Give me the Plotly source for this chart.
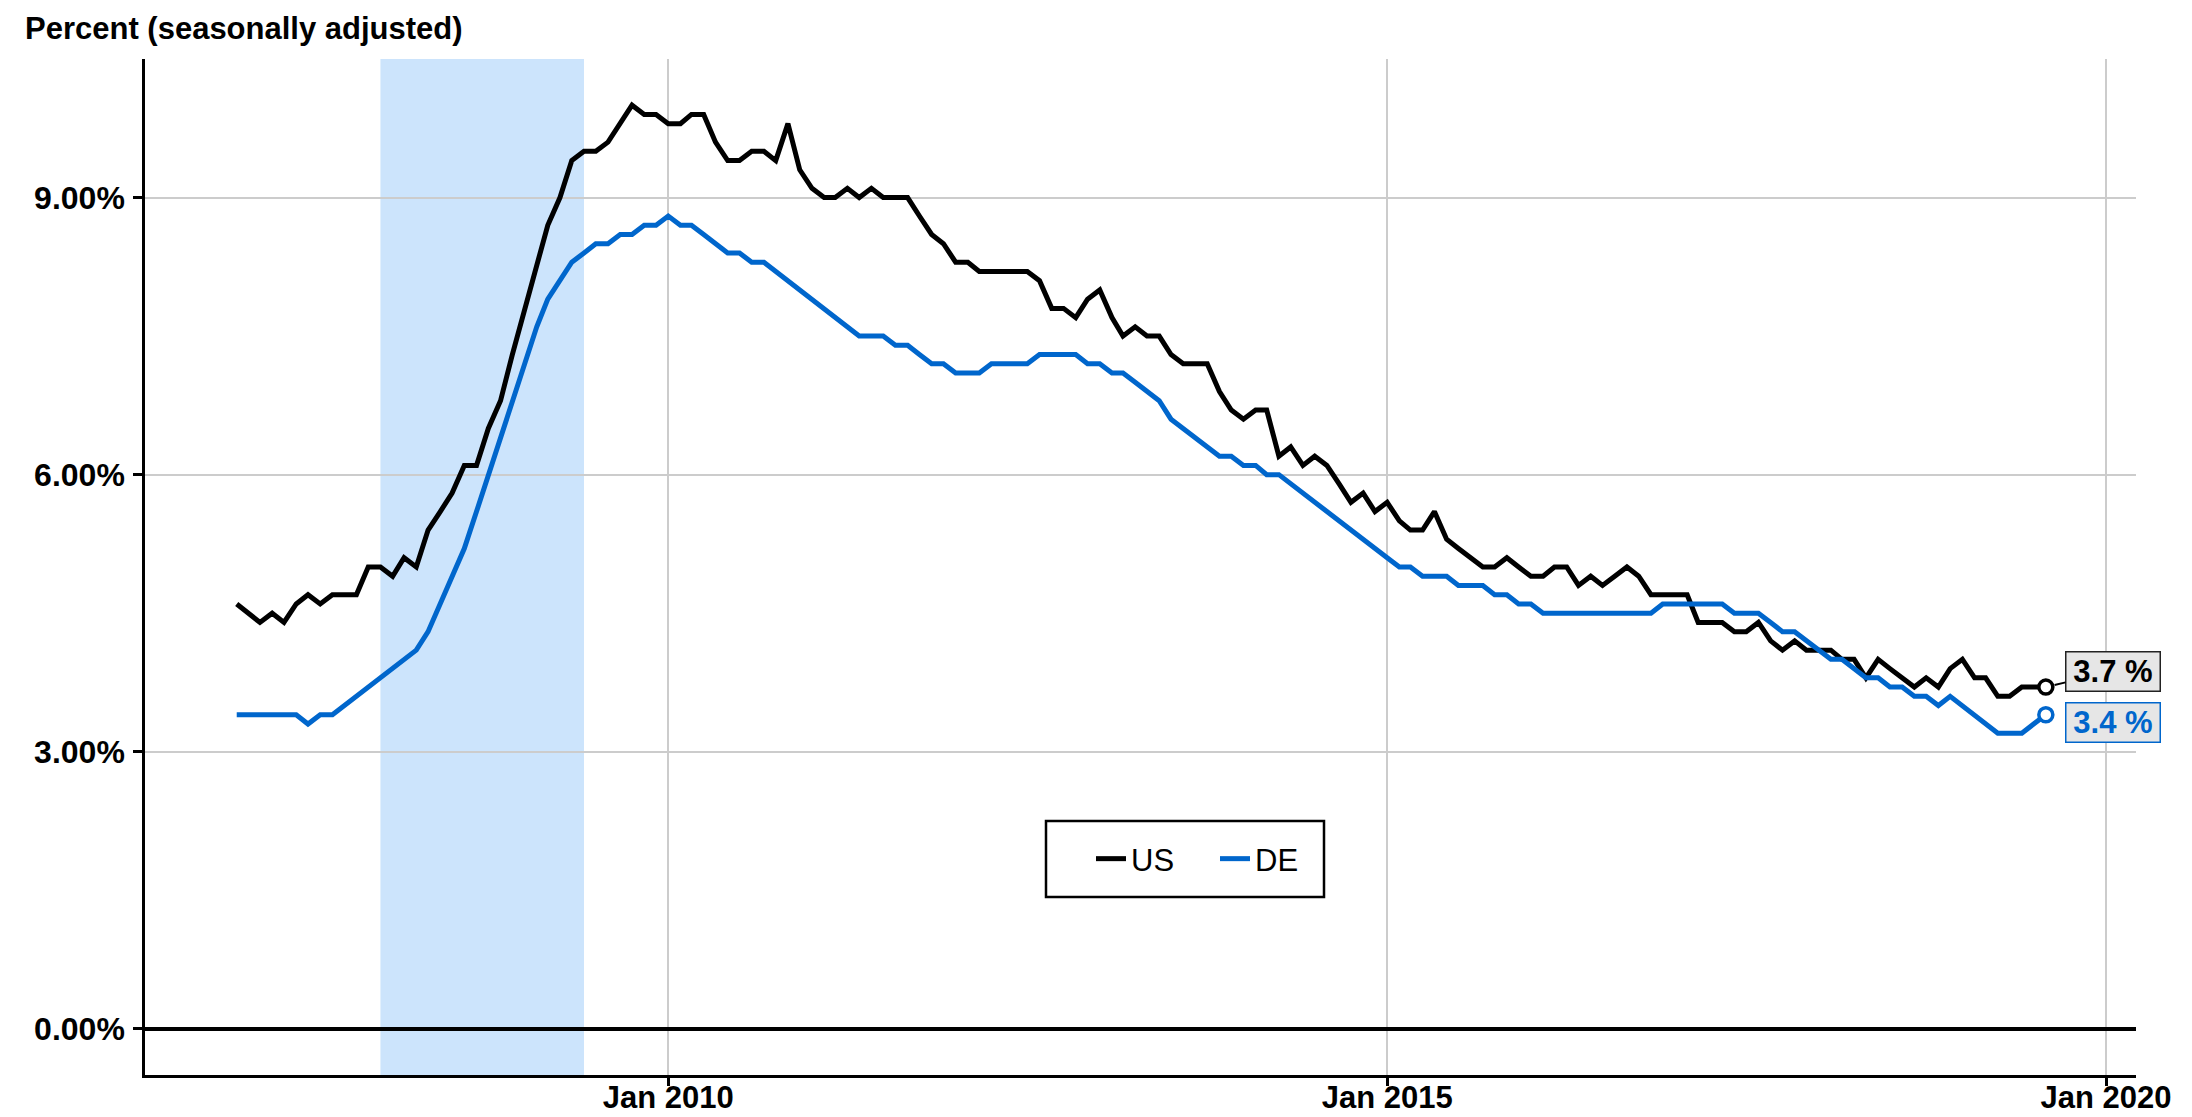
import pandas as pd
import plotly.graph_objects as go

START_MONTH = "2007-01-01"

US = [
    4.6, 4.5, 4.4, 4.5, 4.4, 4.6, 4.7, 4.6, 4.7, 4.7, 4.7, 5.0,
    5.0, 4.9, 5.1, 5.0, 5.4, 5.6, 5.8, 6.1, 6.1, 6.5, 6.8, 7.3,
    7.8, 8.3, 8.7, 9.0, 9.4, 9.5, 9.5, 9.6, 9.8, 10.0, 9.9, 9.9,
    9.8, 9.8, 9.9, 9.9, 9.6, 9.4, 9.4, 9.5, 9.5, 9.4, 9.8, 9.3,
    9.1, 9.0, 9.0, 9.1, 9.0, 9.1, 9.0, 9.0, 9.0, 8.8, 8.6, 8.5,
    8.3, 8.3, 8.2, 8.2, 8.2, 8.2, 8.2, 8.1, 7.8, 7.8, 7.7, 7.9,
    8.0, 7.7, 7.5, 7.6, 7.5, 7.5, 7.3, 7.2, 7.2, 7.2, 6.9, 6.7,
    6.6, 6.7, 6.7, 6.2, 6.3, 6.1, 6.2, 6.1, 5.9, 5.7, 5.8, 5.6,
    5.7, 5.5, 5.4, 5.4, 5.6, 5.3, 5.2, 5.1, 5.0, 5.0, 5.1, 5.0,
    4.9, 4.9, 5.0, 5.0, 4.8, 4.9, 4.8, 4.9, 5.0, 4.9, 4.7, 4.7,
    4.7, 4.7, 4.4, 4.4, 4.4, 4.3, 4.3, 4.4, 4.2, 4.1, 4.2, 4.1,
    4.1, 4.1, 4.0, 4.0, 3.8, 4.0, 3.9, 3.8, 3.7, 3.8, 3.7, 3.9,
    4.0, 3.8, 3.8, 3.6, 3.6, 3.7, 3.7, 3.7,
]

DE = [
    3.4, 3.4, 3.4, 3.4, 3.4, 3.4, 3.3, 3.4, 3.4, 3.5, 3.6, 3.7,
    3.8, 3.9, 4.0, 4.1, 4.3, 4.6, 4.9, 5.2, 5.6, 6.0, 6.4, 6.8,
    7.2, 7.6, 7.9, 8.1, 8.3, 8.4, 8.5, 8.5, 8.6, 8.6, 8.7, 8.7,
    8.8, 8.7, 8.7, 8.6, 8.5, 8.4, 8.4, 8.3, 8.3, 8.2, 8.1, 8.0,
    7.9, 7.8, 7.7, 7.6, 7.5, 7.5, 7.5, 7.4, 7.4, 7.3, 7.2, 7.2,
    7.1, 7.1, 7.1, 7.2, 7.2, 7.2, 7.2, 7.3, 7.3, 7.3, 7.3, 7.2,
    7.2, 7.1, 7.1, 7.0, 6.9, 6.8, 6.6, 6.5, 6.4, 6.3, 6.2, 6.2,
    6.1, 6.1, 6.0, 6.0, 5.9, 5.8, 5.7, 5.6, 5.5, 5.4, 5.3, 5.2,
    5.1, 5.0, 5.0, 4.9, 4.9, 4.9, 4.8, 4.8, 4.8, 4.7, 4.7, 4.6,
    4.6, 4.5, 4.5, 4.5, 4.5, 4.5, 4.5, 4.5, 4.5, 4.5, 4.5, 4.6,
    4.6, 4.6, 4.6, 4.6, 4.6, 4.5, 4.5, 4.5, 4.4, 4.3, 4.3, 4.2,
    4.1, 4.0, 4.0, 3.9, 3.8, 3.8, 3.7, 3.7, 3.6, 3.6, 3.5, 3.6,
    3.5, 3.4, 3.3, 3.2, 3.2, 3.2, 3.3, 3.4,
]

SERIES_NAMES = ["US", "DE"]
SERIES_COLORS = ["#000000", "#0066cc"]
RECESSION = ("2008-01-01", "2009-06-01")
X_RANGE = ("2006-05-13", "2020-03-17")
Y_RANGE = (-0.5, 10.5)
Y_TICKS = [0, 3, 6, 9]
Y_TICK_TEXT = [f"{v:.2f}%" for v in Y_TICKS]
X_TICKS = ["2010-01-01", "2015-01-01", "2020-01-01"]
X_TICK_TEXT = ["Jan 2010", "Jan 2015", "Jan 2020"]
Y_TITLE = "Percent (seasonally adjusted)"

dates = pd.date_range(START_MONTH, periods=len(US), freq="MS")

FONT = "Liberation Sans, Arial, Helvetica, sans-serif"

# page body adds an 8px offset; figure is sized to fill the rest of the window
OFF = 8
PLOT_L, PLOT_R, PLOT_T, PLOT_B = 145, 2136, 59, 1075
PW, PH = PLOT_R - PLOT_L, PLOT_B - PLOT_T


def px(x):
    return (x - PLOT_L) / PW


def py(y):
    return (PLOT_B - y) / PH


fig = go.Figure()

for name, vals, col in zip(SERIES_NAMES, [US, DE], SERIES_COLORS):
    fig.add_trace(go.Scatter(
        x=dates, y=vals, mode="lines", name=name,
        line=dict(color=col, width=5),
        hoverinfo="x+y",
    ))

# end markers
for name, vals, col in zip(SERIES_NAMES, [US, DE], SERIES_COLORS):
    fig.add_trace(go.Scatter(
        x=[dates[-1]], y=[vals[-1]], mode="markers", showlegend=False,
        marker=dict(size=14, color="white", line=dict(color=col, width=3.5)),
        hoverinfo="skip",
    ))

fig.add_vrect(x0=RECESSION[0], x1=RECESSION[1], fillcolor="#cce4fc",
              line_width=0, layer="below")

# legend box
fig.add_shape(type="rect", xref="paper", yref="paper",
              x0=px(1046), x1=px(1324), y0=py(897), y1=py(821),
              line=dict(color="#000000", width=2.5), fillcolor="white",
              layer="above")

# end labels
fig.add_annotation(
    x=dates[-1], y=US[-1], text=f"<b>{US[-1]:.1f} %</b>",
    showarrow=True, arrowhead=0, arrowwidth=2, arrowcolor="#000000",
    ax=67, ay=-16, standoff=9,
    font=dict(family=FONT, size=31, color="#000000"),
    bgcolor="#e6e6e6", bordercolor="#222222", borderwidth=1.5, borderpad=0,
    width=93, height=38,
)
fig.add_annotation(
    x=dates[-1], y=DE[-1], text=f"<b>{DE[-1]:.1f} %</b>",
    showarrow=True, arrowhead=0, arrowwidth=0.1, arrowcolor="rgba(0,0,0,0)",
    ax=67, ay=8,
    font=dict(family=FONT, size=31, color="#0066cc"),
    bgcolor="#e6e6e6", bordercolor="#0066cc", borderwidth=1.5, borderpad=0,
    width=93, height=38,
)

fig.add_annotation(
    xref="paper", yref="paper", x=px(23), y=py(28),
    xanchor="left", yanchor="middle",
    text=f"<b>{Y_TITLE}</b>", showarrow=False,
    font=dict(family=FONT, size=31, color="#000000"),
)

W, H = 2192 - OFF, 1117 - OFF
fig.update_layout(
    width=W, height=H,
    margin=dict(l=PLOT_L - OFF, r=W - (PLOT_R - OFF), t=PLOT_T - OFF,
                b=H - (PLOT_B - OFF), autoexpand=False),
    paper_bgcolor="white", plot_bgcolor="white",
    font=dict(family=FONT, size=31, color="#000000"),
    showlegend=True,
    legend=dict(
        orientation="h", x=px(1091), y=py(859),
        xanchor="left", yanchor="middle",
        borderwidth=0, bgcolor="rgba(0,0,0,0)",
        font=dict(family=FONT, size=31, color="#000000"),
        itemwidth=30, entrywidth=79,
    ),
    xaxis=dict(
        type="date", range=list(X_RANGE),
        tickvals=X_TICKS, ticktext=X_TICK_TEXT,
        tickfont=dict(family=FONT, size=31, color="#000000", weight="bold"),
        showgrid=True, gridcolor="#cccccc", gridwidth=1.5,
        showline=True, linecolor="#000000", linewidth=2.5,
        ticks="outside", ticklen=8, tickwidth=2.5, tickcolor="#000000",
        ticklabelstandoff=-15,
        zeroline=False, automargin=False,
    ),
    yaxis=dict(
        range=list(Y_RANGE), tickvals=Y_TICKS, ticktext=Y_TICK_TEXT,
        tickfont=dict(family=FONT, size=32, color="#000000", weight="bold"),
        showgrid=True, gridcolor="#cccccc", gridwidth=1.5,
        showline=True, linecolor="#000000", linewidth=2.5,
        ticks="outside", ticklen=9, tickwidth=2.5, tickcolor="#000000",
        ticklabelstandoff=2,
        zeroline=True, zerolinecolor="#000000", zerolinewidth=3.5,
        automargin=False,
    ),
)

fig.write_html("out.html")
